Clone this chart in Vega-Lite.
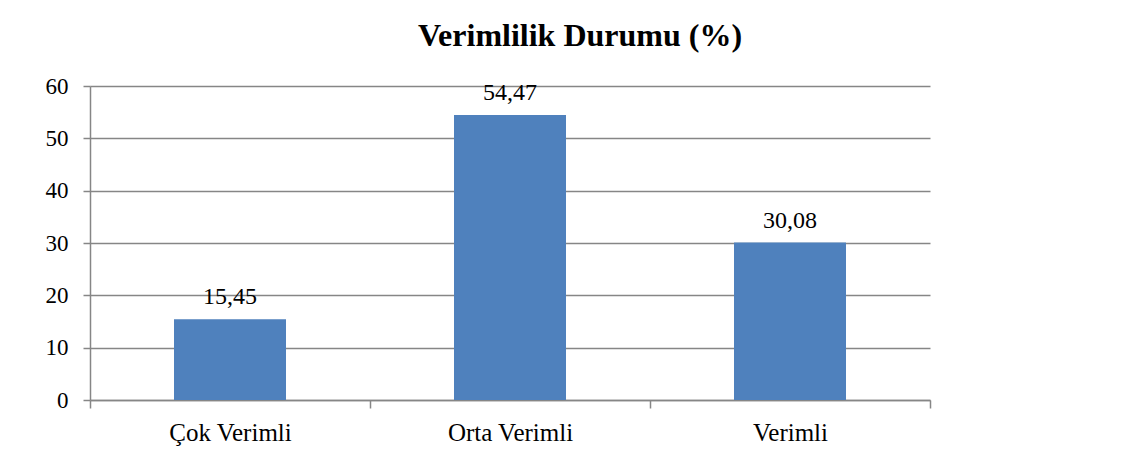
{
  "$schema": "https://vega.github.io/schema/vega-lite/v6.json",
  "width": 840,
  "height": 314,
  "autosize": {"type": "none"},
  "padding": {"left": 90, "top": 86, "right": 217, "bottom": 63},
  "background": "white",
  "title": {
    "text": "Verimlilik Durumu (%)",
    "font": "Liberation Serif",
    "fontSize": 32,
    "fontWeight": "bold",
    "color": "#000000",
    "anchor": "middle",
    "baseline": "alphabetic",
    "offset": -3,
    "dx": 70
  },
  "data": {
    "values": [
      {"kategori": "Çok Verimli", "yuzde": 15.45},
      {"kategori": "Orta Verimli", "yuzde": 54.47},
      {"kategori": "Verimli", "yuzde": 30.08}
    ]
  },
  "encoding": {
    "x": {
      "field": "kategori",
      "type": "nominal",
      "sort": null,
      "scale": {"paddingInner": 0, "paddingOuter": 0},
      "axis": {
        "title": null,
        "labelAngle": 0,
        "labelFont": "Liberation Serif",
        "labelFontSize": 25,
        "labelColor": "#000000",
        "labelPadding": 12,
        "tickBand": "extent",
        "tickSize": 8,
        "tickColor": "#868686",
        "tickWidth": 1.5,
        "domainColor": "#868686",
        "domainWidth": 1.5,
        "grid": false
      }
    },
    "y": {
      "field": "yuzde",
      "type": "quantitative",
      "scale": {"domain": [0, 60], "nice": false},
      "axis": {
        "title": null,
        "values": [0, 10, 20, 30, 40, 50, 60],
        "labelFont": "Liberation Serif",
        "labelFontSize": 23,
        "labelColor": "#000000",
        "labelPadding": 15,
        "tickSize": 7,
        "tickColor": "#868686",
        "tickWidth": 1.5,
        "domainColor": "#868686",
        "domainWidth": 1.5,
        "grid": true,
        "gridColor": "#868686",
        "gridWidth": 1.5
      }
    }
  },
  "layer": [
    {"mark": {"type": "bar", "color": "#4f81bd", "width": {"band": 0.4}}},
    {
      "mark": {
        "type": "text",
        "baseline": "alphabetic",
        "dy": -15,
        "font": "Liberation Serif",
        "fontSize": 24,
        "color": "#000000"
      },
      "encoding": {
        "text": {"field": "yuzde", "type": "quantitative", "format": ".2f"}
      }
    }
  ],
  "config": {
    "view": {"stroke": null},
    "locale": {
      "number": {"decimal": ",", "thousands": ".", "grouping": [3], "currency": ["", " TL"]}
    }
  }
}
